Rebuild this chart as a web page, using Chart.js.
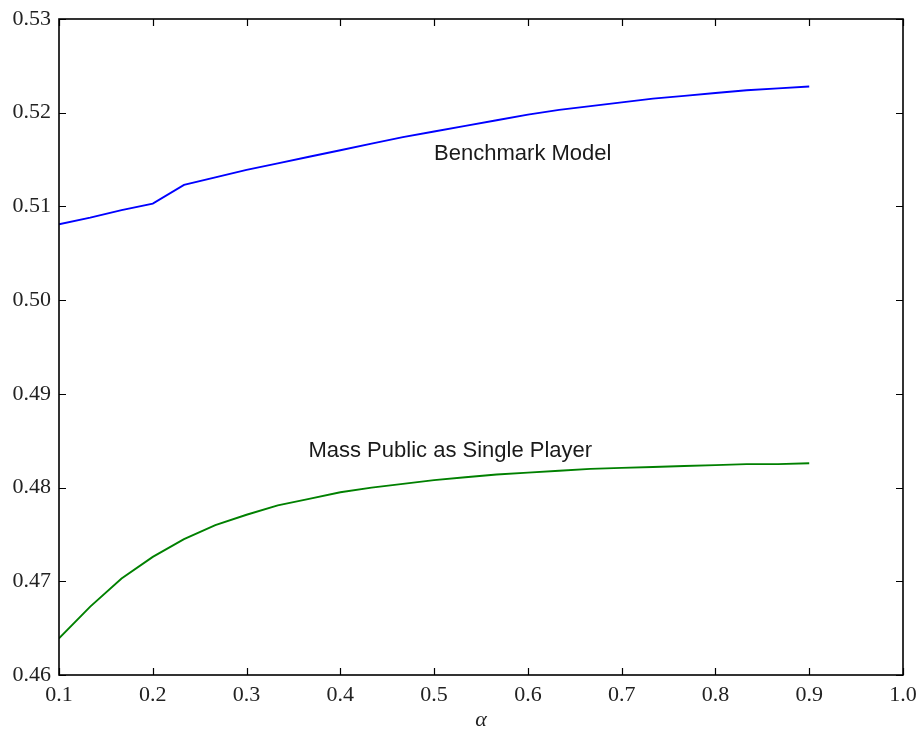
<!DOCTYPE html>
<html>
<head>
<meta charset="utf-8">
<script src="https://cdn.jsdelivr.net/npm/chart.js@4/dist/chart.umd.min.js"></script>
<style>
  html, body { margin: 0; padding: 0; background: #ffffff; }
  #wrap { width: 918px; height: 733px; position: relative; }
</style>
</head>
<body>
<div id="wrap"><canvas id="c" width="918" height="733"></canvas></div>
<script>
// ---- data ----
const alphaValues = [0.1, 0.1333, 0.1667, 0.2, 0.2333, 0.2667, 0.3, 0.3333, 0.3667, 0.4, 0.4333,
  0.4667, 0.5, 0.5333, 0.5667, 0.6, 0.6333, 0.6667, 0.7, 0.7333, 0.7667, 0.8, 0.8333, 0.8667, 0.9];
const benchmarkValues = [0.5081, 0.5088, 0.5096, 0.5103, 0.5123, 0.5131, 0.5139, 0.5146, 0.5153, 0.5160, 0.5167,
  0.5174, 0.5180, 0.5186, 0.5192, 0.5198, 0.5203, 0.5207, 0.5211, 0.5215, 0.5218, 0.5221, 0.5224, 0.5226, 0.5228];
const massPublicValues = [0.4639, 0.4673, 0.4703, 0.4726, 0.4745, 0.4760, 0.4771, 0.4781, 0.4788, 0.4795, 0.4800,
  0.4804, 0.4808, 0.4811, 0.4814, 0.4816, 0.4818, 0.4820, 0.4821, 0.4822, 0.4823, 0.4824, 0.4825, 0.4825, 0.4826];
const xTickValues = [0.1, 0.2, 0.3, 0.4, 0.5, 0.6, 0.7, 0.8, 0.9, 1.0];
const yTickValues = [0.46, 0.47, 0.48, 0.49, 0.50, 0.51, 0.52, 0.53];
const seriesNames = ["Benchmark Model", "Mass Public as Single Player"];
const annotationAnchors = [[0.5, 0.5150], [0.366, 0.4833]]; // left/baseline of labels, in data units
const xAxisLabel = "α";

const toPoints = (xs, ys) => xs.map((x, i) => ({ x: x, y: ys[i] }));

const tickFont = { family: "'Liberation Serif', 'DejaVu Serif', serif", size: 22 };

const frameAndTicks = {
  id: 'frameAndTicks',
  afterDraw(chart) {
    const { ctx, chartArea: a, scales } = chart;
    const L = 7;
    ctx.save();
    ctx.strokeStyle = '#000';
    ctx.lineWidth = 1.2;
    ctx.beginPath();
    xTickValues.forEach(v => {
      const px = Math.round(scales.x.getPixelForValue(v)) + 0.5;
      ctx.moveTo(px, a.bottom); ctx.lineTo(px, a.bottom - L);
      ctx.moveTo(px, a.top); ctx.lineTo(px, a.top + L);
    });
    yTickValues.forEach(v => {
      const py = Math.round(scales.y.getPixelForValue(v)) + 0.5;
      ctx.moveTo(a.left, py); ctx.lineTo(a.left + L, py);
      ctx.moveTo(a.right, py); ctx.lineTo(a.right - L, py);
    });
    ctx.stroke();
    ctx.lineWidth = 1.6;
    ctx.strokeRect(a.left, a.top, a.right - a.left, a.bottom - a.top);
    // annotations
    ctx.fillStyle = '#1a1a1a';
    ctx.font = "22px 'Liberation Sans', Arial, sans-serif";
    ctx.textAlign = 'left';
    ctx.textBaseline = 'alphabetic';
    seriesNames.forEach((name, i) => {
      const [ax, ay] = annotationAnchors[i];
      ctx.fillText(name, scales.x.getPixelForValue(ax), scales.y.getPixelForValue(ay));
    });
    ctx.restore();
  }
};

new Chart(document.getElementById('c'), {
  type: 'line',
  data: {
    datasets: [
      { label: seriesNames[0], data: toPoints(alphaValues, benchmarkValues), borderColor: '#0000ff', borderWidth: 1.9, pointRadius: 0, fill: false, tension: 0 },
      { label: seriesNames[1], data: toPoints(alphaValues, massPublicValues), borderColor: '#008000', borderWidth: 1.9, pointRadius: 0, fill: false, tension: 0 }
    ]
  },
  options: {
    responsive: false,
    animation: false,
    devicePixelRatio: 1,
    layout: { padding: { left: 0, right: 15, top: 19, bottom: 0 } },
    plugins: { legend: { display: false }, tooltip: { enabled: false } },
    scales: {
      x: {
        type: 'linear', min: 0.1, max: 1.0,
        afterBuildTicks: s => { s.ticks = xTickValues.map(v => ({ value: v })); },
        afterFit: s => { s.height = 58; s.paddingLeft = 0; s.paddingRight = 0; },
        grid: { display: false, drawTicks: false },
        border: { display: false },
        ticks: { font: tickFont, color: '#222', padding: 7, maxRotation: 0, autoSkip: false, callback: v => v.toFixed(1) },
        title: { display: true, text: xAxisLabel, font: { family: "'Liberation Serif', 'DejaVu Serif', serif", size: 22, style: 'italic' }, color: '#222', padding: { top: 2, bottom: 0 } }
      },
      y: {
        type: 'linear', min: 0.46, max: 0.53,
        afterBuildTicks: s => { s.ticks = yTickValues.map(v => ({ value: v })); },
        afterFit: s => { s.width = 59; s.paddingTop = 0; s.paddingBottom = 0; },
        grid: { display: false, drawTicks: false },
        border: { display: false },
        ticks: { font: tickFont, color: '#222', padding: 8, autoSkip: false, callback: v => v.toFixed(2) }
      }
    }
  },
  plugins: [frameAndTicks]
});
</script>
</body>
</html>
